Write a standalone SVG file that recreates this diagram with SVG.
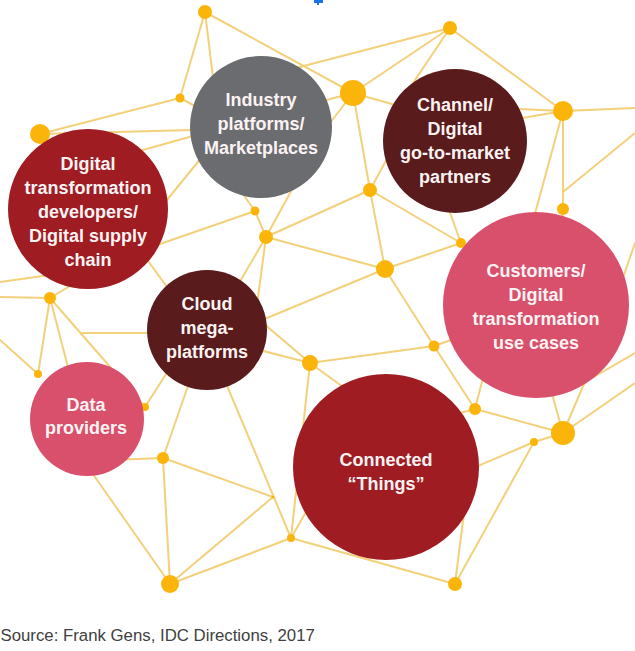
<svg xmlns="http://www.w3.org/2000/svg" width="635" height="651" viewBox="0 0 635 651">
<style>
.c line{stroke:#f3d07a;stroke-width:2;stroke-linecap:round}
.y{fill:#fbb40a}
.t{font-family:"Liberation Sans",Arial,sans-serif;font-weight:bold;font-size:18px;fill:#fbf3f3;text-anchor:middle}
.gray{fill:#6b6c70}
.maroon{fill:#5a1b1d}
.red{fill:#9f1c22}
.pink{fill:#d8506b}
</style>
<rect width="635" height="651" fill="#ffffff"/>
<rect x="314" y="0" width="9" height="3" fill="#1a73e8"/>
<rect x="317" y="3" width="2" height="2" fill="#1a73e8"/>
<g id="connectors" class="c">
<line x1="205" y1="12" x2="180" y2="98"/>
<line x1="205" y1="12" x2="217" y2="110"/>
<line x1="205" y1="12" x2="353" y2="93"/>
<line x1="265" y1="76" x2="450" y2="28"/>
<line x1="353" y1="93" x2="450" y2="28"/>
<line x1="353" y1="93" x2="300" y2="107"/>
<line x1="353" y1="93" x2="313" y2="145"/>
<line x1="353" y1="93" x2="370" y2="190"/>
<line x1="353" y1="93" x2="420" y2="112"/>
<line x1="40" y1="134" x2="180" y2="98"/>
<line x1="180" y1="98" x2="230" y2="125"/>
<line x1="40" y1="134" x2="230" y2="129"/>
<line x1="100" y1="162" x2="225" y2="127"/>
<line x1="140" y1="233" x2="215" y2="141"/>
<line x1="450" y1="28" x2="563" y2="111"/>
<line x1="450" y1="28" x2="405" y2="95"/>
<line x1="563" y1="111" x2="500" y2="108"/>
<line x1="563" y1="111" x2="500" y2="122"/>
<line x1="563" y1="111" x2="635" y2="108"/>
<line x1="563" y1="111" x2="563" y2="209"/>
<line x1="563" y1="111" x2="525" y2="250"/>
<line x1="635" y1="133" x2="563" y2="192"/>
<line x1="563" y1="209" x2="560" y2="240"/>
<line x1="370" y1="190" x2="400" y2="135"/>
<line x1="370" y1="190" x2="266" y2="237"/>
<line x1="370" y1="190" x2="385" y2="269"/>
<line x1="370" y1="190" x2="461" y2="243"/>
<line x1="461" y1="243" x2="440" y2="185"/>
<line x1="255" y1="211" x2="266" y2="237"/>
<line x1="255" y1="211" x2="140" y2="251"/>
<line x1="255" y1="211" x2="235" y2="183"/>
<line x1="266" y1="237" x2="300" y2="175"/>
<line x1="266" y1="237" x2="235" y2="290"/>
<line x1="266" y1="237" x2="255" y2="320"/>
<line x1="266" y1="237" x2="385" y2="269"/>
<line x1="385" y1="269" x2="250" y2="325"/>
<line x1="385" y1="269" x2="434" y2="346"/>
<line x1="385" y1="269" x2="461" y2="243"/>
<line x1="310" y1="363" x2="250" y2="312"/>
<line x1="310" y1="363" x2="240" y2="345"/>
<line x1="310" y1="363" x2="434" y2="346"/>
<line x1="310" y1="363" x2="350" y2="392"/>
<line x1="310" y1="363" x2="291" y2="538"/>
<line x1="434" y1="346" x2="475" y2="409"/>
<line x1="434" y1="346" x2="480" y2="330"/>
<line x1="475" y1="409" x2="485" y2="370"/>
<line x1="475" y1="409" x2="563" y2="433"/>
<line x1="475" y1="409" x2="430" y2="421"/>
<line x1="563" y1="433" x2="548" y2="380"/>
<line x1="563" y1="433" x2="590" y2="370"/>
<line x1="563" y1="433" x2="635" y2="383"/>
<line x1="563" y1="433" x2="534" y2="442"/>
<line x1="534" y1="442" x2="450" y2="478"/>
<line x1="534" y1="442" x2="455" y2="584"/>
<line x1="455" y1="584" x2="465" y2="505"/>
<line x1="291" y1="538" x2="455" y2="584"/>
<line x1="163" y1="458" x2="110" y2="460"/>
<line x1="163" y1="458" x2="190" y2="380"/>
<line x1="163" y1="458" x2="273" y2="497"/>
<line x1="163" y1="458" x2="170" y2="584"/>
<line x1="170" y1="584" x2="88" y2="467"/>
<line x1="170" y1="584" x2="273" y2="497"/>
<line x1="170" y1="584" x2="291" y2="538"/>
<line x1="220" y1="369" x2="291" y2="538"/>
<line x1="291" y1="538" x2="310" y2="505"/>
<line x1="50" y1="298" x2="0" y2="297"/>
<line x1="0" y1="282" x2="50" y2="275"/>
<line x1="50" y1="298" x2="75" y2="283"/>
<line x1="50" y1="298" x2="38" y2="374"/>
<line x1="0" y1="340" x2="38" y2="374"/>
<line x1="50" y1="298" x2="70" y2="375"/>
<line x1="50" y1="298" x2="145" y2="407"/>
<line x1="81" y1="333" x2="160" y2="333"/>
<line x1="140" y1="250" x2="175" y2="298"/>
<line x1="175" y1="360" x2="145" y2="407"/>
<line x1="635" y1="243" x2="615" y2="301"/>
<line x1="635" y1="353" x2="585" y2="382"/>
</g>
<g id="junctions">
<circle class="y" cx="205" cy="12" r="7"/>
<circle class="y" cx="180" cy="98" r="4.5"/>
<circle class="y" cx="40" cy="134" r="10"/>
<circle class="y" cx="255" cy="211" r="4.5"/>
<circle class="y" cx="450" cy="28" r="7"/>
<circle class="y" cx="353" cy="93" r="13"/>
<circle class="y" cx="563" cy="111" r="10"/>
<circle class="y" cx="370" cy="190" r="7"/>
<circle class="y" cx="563" cy="209" r="6"/>
<circle class="y" cx="266" cy="237" r="7"/>
<circle class="y" cx="50" cy="298" r="6"/>
<circle class="y" cx="38" cy="374" r="4"/>
<circle class="y" cx="310" cy="363" r="8"/>
<circle class="y" cx="145" cy="407" r="4"/>
<circle class="y" cx="385" cy="269" r="9"/>
<circle class="y" cx="461" cy="243" r="5"/>
<circle class="y" cx="434" cy="346" r="5.5"/>
<circle class="y" cx="475" cy="409" r="6"/>
<circle class="y" cx="163" cy="458" r="6"/>
<circle class="y" cx="170" cy="584" r="9"/>
<circle class="y" cx="273" cy="497" r="1.5"/>
<circle class="y" cx="291" cy="538" r="4"/>
<circle class="y" cx="563" cy="433" r="12"/>
<circle class="y" cx="534" cy="442" r="4"/>
<circle class="y" cx="455" cy="584" r="7"/>
</g>
<g id="industry-platforms">
<circle class="gray" cx="261" cy="127" r="71"/>
<text class="t" x="261" y="106">Industry</text>
<text class="t" x="261" y="130">platforms/</text>
<text class="t" x="261" y="154">Marketplaces</text>
</g>
<g id="channel-partners">
<circle class="maroon" cx="455" cy="141" r="72"/>
<text class="t" x="455" y="111">Channel/</text>
<text class="t" x="455" y="135">Digital</text>
<text class="t" x="455" y="159">go-to-market</text>
<text class="t" x="455" y="183">partners</text>
</g>
<g id="digital-transformation-developers">
<circle class="red" cx="88" cy="209" r="80"/>
<text class="t" x="88" y="170">Digital</text>
<text class="t" x="88" y="194">transformation</text>
<text class="t" x="88" y="218">developers/</text>
<text class="t" x="88" y="242">Digital supply</text>
<text class="t" x="88" y="266">chain</text>
</g>
<g id="cloud-mega-platforms">
<circle class="maroon" cx="207" cy="330" r="60"/>
<text class="t" x="207" y="310">Cloud</text>
<text class="t" x="207" y="334">mega-</text>
<text class="t" x="207" y="358">platforms</text>
</g>
<g id="data-providers">
<circle class="pink" cx="87" cy="419" r="57"/>
<text class="t" x="86" y="411">Data</text>
<text class="t" x="86" y="434">providers</text>
</g>
<g id="customers">
<circle class="pink" cx="536" cy="305" r="93"/>
<text class="t" x="536" y="277">Customers/</text>
<text class="t" x="536" y="301">Digital</text>
<text class="t" x="536" y="325">transformation</text>
<text class="t" x="536" y="349">use cases</text>
</g>
<g id="connected-things">
<circle class="red" cx="386" cy="467" r="93"/>
<text class="t" x="386" y="466">Connected</text>
<text class="t" x="386" y="490">“Things”</text>
</g>
<text x="0.5" y="641" font-family="Liberation Sans, Arial, sans-serif" font-size="16.8" fill="#404040">Source: Frank Gens, IDC Directions, 2017</text>
</svg>
